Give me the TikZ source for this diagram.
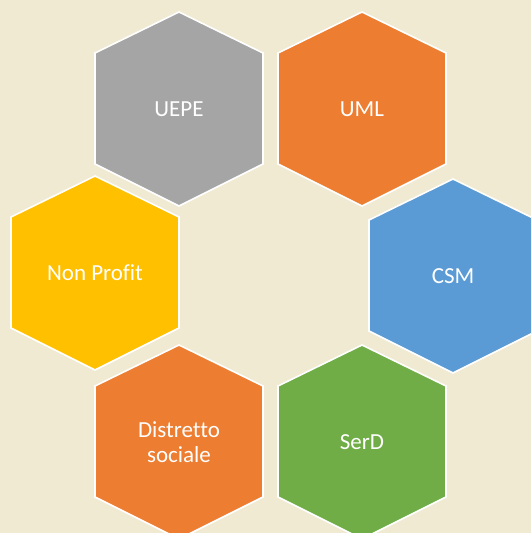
\documentclass[tikz,border=0pt]{standalone}
\usepackage{fontspec}
\setmainfont{Carlito}[Ligatures=NoCommon]
\usepackage{tikz}

\definecolor{bgtan}{HTML}{F0EAD2}
\definecolor{cgray}{HTML}{A5A5A5}
\definecolor{corange}{HTML}{ED7D31}
\definecolor{cyellow}{HTML}{FFC000}
\definecolor{cblue}{HTML}{5B9BD5}
\definecolor{cgreen}{HTML}{70AD47}

\begin{document}
\begin{tikzpicture}[x=1pt,y=-1pt]
\tikzset{cell/.style = {draw=white, line width=1.6pt, line join=miter}}
\tikzset{celltext/.style = {text=white, align=center, font=\fontsize{23}{25.5}\selectfont}}
% background
\useasboundingbox (0,0) rectangle (531,533);
\fill[bgtan] (0,0) rectangle (531,533);
\clip (0,0) rectangle (531,533);
% cells
\foreach \n/\x/\y/\c/\t in {uepe/179/109/cgray/UEPE,
                            uml/362/109/corange/UML,
                            nonprofit/95/273/cyellow/Non Profit,
                            csm/453/276/cblue/CSM,
                            distretto/179/442/corange/{Distretto\\sociale},
                            serd/362/442/cgreen/SerD}{
  \draw[cell, fill=\c] (\x,\y-97) -- (\x+84,\y-56) -- (\x+84,\y+55)
        -- (\x,\y+97) -- (\x-84,\y+55) -- (\x-84,\y-56) -- cycle;
  \node[celltext] (\n) at (\x,\y) {\t};
}
\end{tikzpicture}
\end{document}
